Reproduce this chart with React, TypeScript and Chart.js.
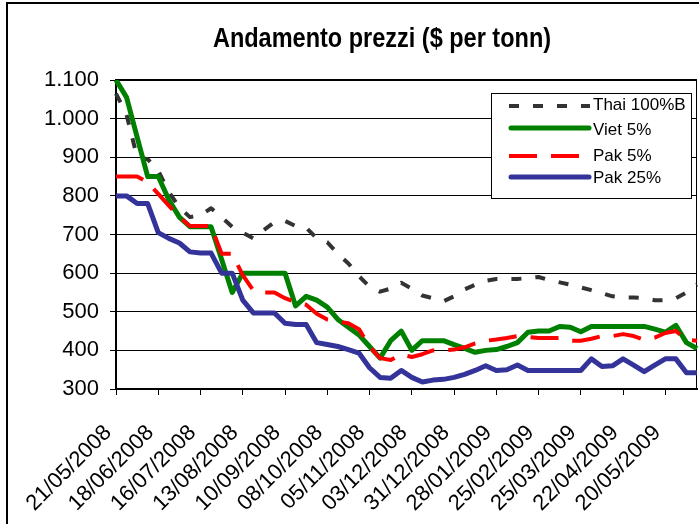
import React, { useEffect, useRef } from 'react';
import { Chart, registerables } from 'chart.js';

Chart.register(...registerables);

const FONT = '"Liberation Sans", Arial, sans-serif';

const chartTitle = 'Andamento prezzi ($ per tonn)';

const labels = [
  '21/05/2008', '28/05/2008', '04/06/2008', '11/06/2008', '18/06/2008', '25/06/2008', '02/07/2008', '09/07/2008',
  '16/07/2008', '23/07/2008', '30/07/2008', '06/08/2008', '13/08/2008', '20/08/2008', '27/08/2008', '03/09/2008',
  '10/09/2008', '17/09/2008', '24/09/2008', '01/10/2008', '08/10/2008', '15/10/2008', '22/10/2008', '29/10/2008',
  '05/11/2008', '12/11/2008', '19/11/2008', '26/11/2008', '03/12/2008', '10/12/2008', '17/12/2008', '24/12/2008',
  '31/12/2008', '07/01/2009', '14/01/2009', '21/01/2009', '28/01/2009', '04/02/2009', '11/02/2009', '18/02/2009',
  '25/02/2009', '04/03/2009', '11/03/2009', '18/03/2009', '25/03/2009', '01/04/2009', '08/04/2009', '15/04/2009',
  '22/04/2009', '29/04/2009', '06/05/2009', '13/05/2009', '20/05/2009', '27/05/2009', '03/06/2009', '10/06/2009',
];

const seriesNames = ['Thai 100%B', 'Viet 5%', 'Pak 5%', 'Pak 25%'];

const thai = [
  1065, 1010, 900, 895, 865, 810, 770, 745, 750, 768, 745, 720, 705, 690, 712, 732,
  735, 722, 718, 690, 680, 650, 625, 592, 565, 552, 560, 575, 560, 542, 535, 527,
  540, 558, 570, 580, 585, 585, 585, 587, 590, 582, 576, 570, 563, 556, 548, 540,
  537, 537, 535, 530, 530, 535, 550, 570,
];

const viet = [
  1100, 1055, 952, 850, 850, 790, 745, 720, 720, 720, 635, 550, 600, 600, 600, 600,
  600, 515, 540, 530, 512, 480, 460, 440, 410, 380, 425, 450, 400, 425, 425, 425,
  415, 405, 395, 400, 402, 410, 420, 447, 450, 450, 462, 460, 448, 462, 462, 462,
  462, 462, 462, 455, 447, 465, 420, 405,
];

const pak5 = [
  850, 850, 850, 835, 805, 775, 745, 722, 722, 722, 650, 650, 595, 555, 550, 550,
  535, 525, 518, 495, 480, 475, 470, 455, 410, 380, 375, 390, 383, 390, 400, 400,
  402, 408, 418, 425, 428, 432, 437, 435, 432, 432, 432, 425, 425, 430, 437, 437,
  442, 437, 427, 433, 445, 450, 427, 425,
];

const pak25 = [
  800, 800, 780, 780, 705, 690, 678, 655, 652, 652, 600, 600, 530, 497, 497, 497,
  470, 467, 467, 420, 415, 410, 402, 393, 355, 330, 328, 348, 330, 318, 323, 325,
  330, 338, 348, 360, 348, 350, 362, 348, 348, 348, 348, 348, 348, 378, 358, 360,
  378, 362, 345, 362, 378, 378, 342, 342,
];

const yMin = 300;
const yMax = 1100;
const yStep = 100;
const labelEvery = 4;

const colors = ['#333333', '#008000', '#FF0000', '#333399'];
const widths = [4, 5, 4, 5];
const dashes: number[][] = [[10, 14], [], [28, 14], []];

function fmtIt(v: number): string {
  const s = String(Math.round(v));
  return s.replace(/\B(?=(\d{3})+(?!\d))/g, '.');
}

const decorPlugin = {
  id: 'decor',
  beforeDatasetsDraw(chart: any) {
    const { ctx, chartArea } = chart;
    ctx.save();
    ctx.strokeStyle = '#000';
    ctx.lineWidth = 1;
    ctx.beginPath();
    ctx.moveTo(Math.round(chartArea.right) - 0.5, chartArea.top);
    ctx.lineTo(Math.round(chartArea.right) - 0.5, chartArea.bottom);
    ctx.stroke();
    ctx.lineWidth = 2;
    ctx.beginPath();
    ctx.moveTo(chartArea.left, Math.round(chartArea.top));
    ctx.lineTo(chartArea.right, Math.round(chartArea.top));
    ctx.stroke();
    ctx.restore();
  },
  afterDraw(chart: any) {
    const { ctx } = chart;
    ctx.save();
    // outer chart border
    ctx.strokeStyle = '#000';
    ctx.lineWidth = 2;
    ctx.beginPath();
    ctx.moveTo(7, 540);
    ctx.lineTo(7, 3);
    ctx.lineTo(720, 3);
    ctx.stroke();

    // title
    ctx.fillStyle = '#000';
    ctx.font = `bold 23.5px ${FONT}`;
    ctx.textAlign = 'center';
    ctx.textBaseline = 'alphabetic';
    ctx.save();
    ctx.translate(382, 46.5);
    ctx.scale(1, 1.2);
    ctx.fillText(chartTitle, 0, 0);
    ctx.restore();

    // legend
    const lx = 491.5, ly = 93.5, lw = 200, lh = 105;
    ctx.fillStyle = '#fff';
    ctx.fillRect(lx, ly, lw, lh);
    ctx.strokeStyle = '#000';
    ctx.lineWidth = 1;
    ctx.strokeRect(lx, ly, lw, lh);
    const rowsLine = [106, 128, 156, 177];
    const rowsText = [105, 130, 156, 178];
    for (let i = 0; i < seriesNames.length; i++) {
      ctx.save();
      ctx.strokeStyle = colors[i];
      ctx.lineWidth = widths[i];
      ctx.setLineDash(dashes[i]);
      ctx.lineCap = dashes[i].length ? 'butt' : 'round';
      ctx.beginPath();
      ctx.moveTo(dashes[i].length ? 509 : 511, rowsLine[i]);
      ctx.lineTo(dashes[i].length ? 590 : 589, rowsLine[i]);
      ctx.stroke();
      ctx.restore();
      ctx.fillStyle = '#000';
      ctx.font = `17px ${FONT}`;
      ctx.textAlign = 'left';
      ctx.textBaseline = 'middle';
      ctx.fillText(seriesNames[i], 593, rowsText[i]);
    }
    ctx.restore();
  },
};

export default function App() {
  const ref = useRef<HTMLCanvasElement | null>(null);

  useEffect(() => {
    if (!ref.current) return;
    const seriesData = [thai, viet, pak5, pak25];
    const chart = new Chart(ref.current, {
      type: 'line',
      data: {
        labels,
        datasets: seriesData.map((d, i) => ({
          label: seriesNames[i],
          data: d,
          borderColor: colors[i],
          backgroundColor: colors[i],
          borderWidth: widths[i],
          borderDash: dashes[i],
          borderCapStyle: 'butt',
          borderJoinStyle: 'round',
          pointRadius: 0,
          tension: 0,
          fill: false,
          order: 4 - i,
        })),
      },
      options: {
        animation: false,
        responsive: false,
        maintainAspectRatio: false,
        layout: { padding: { top: 80, right: 2, left: 0, bottom: 0 } },
        plugins: {
          legend: { display: false },
          title: { display: false },
          tooltip: { enabled: false },
        },
        scales: {
          x: {
            type: 'category',
            offset: false,
            grid: {
              drawOnChartArea: false,
              drawTicks: true,
              tickLength: 6,
              lineWidth: 1,
              color: (c: any) => (c.index % labelEvery === 0 ? '#000' : 'rgba(0,0,0,0)'),
            },
            border: { color: '#000', width: 2 },
            ticks: {
              autoSkip: false,
              maxRotation: 45,
              minRotation: 45,
              padding: 25,
              labelOffset: -8,
              color: '#000',
              font: { family: FONT, size: 22 },
              callback: (_v: any, i: number) => (i % labelEvery === 0 ? labels[i] : ''),
            },
            afterFit: (s: any) => {
              s.height = 135;
              s.paddingLeft = 0;
              s.paddingRight = 0;
            },
          },
          y: {
            min: yMin,
            max: yMax,
            grid: { color: '#000', lineWidth: 1, tickLength: 6 },
            border: { color: '#000', width: 2 },
            ticks: {
              stepSize: yStep,
              padding: 11,
              color: '#000',
              font: { family: FONT, size: 22 },
              callback: (v: any) => fmtIt(Number(v)),
            },
            afterFit: (s: any) => {
              s.width = 116;
              s.paddingTop = 0;
              s.paddingBottom = 0;
            },
          },
        },
      },
      plugins: [decorPlugin],
    });
    return () => chart.destroy();
  }, []);

  return (
    <div style={{ position: 'absolute', left: 0, top: 0, width: 699, height: 524, background: '#fff' }}>
      <canvas ref={ref} width={699} height={524} style={{ display: 'block' }} />
    </div>
  );
}
